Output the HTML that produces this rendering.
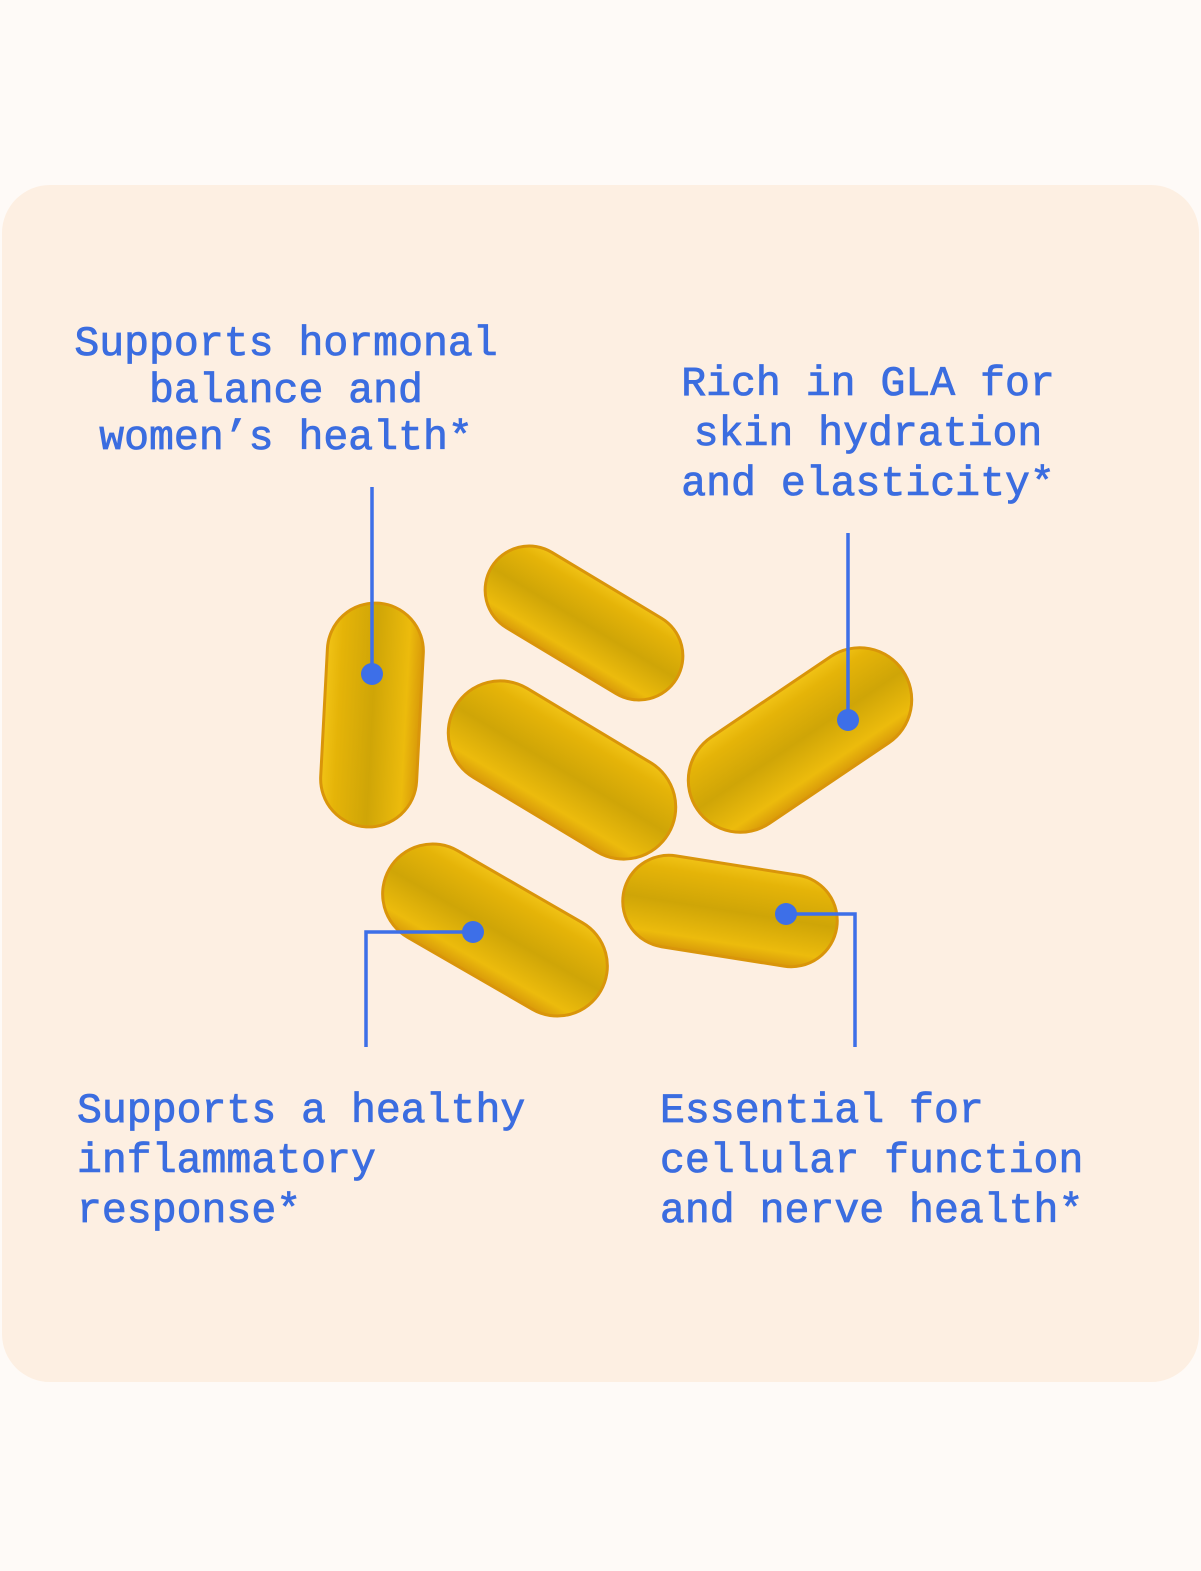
<!DOCTYPE html>
<html><head><style>
body{margin:0;width:1201px;height:1571px;background:#fefaf7;position:relative;overflow:hidden;font-family:"Liberation Mono",monospace;}
.panel{position:absolute;left:2px;top:185px;width:1197px;height:1197px;border-radius:48px;background:#fdefe2;}
.t{position:absolute;color:#3b6de0;font-size:41.5px;white-space:pre;line-height:47px;-webkit-text-stroke:0.8px #3b6de0;}
svg{position:absolute;left:0;top:0;}
</style></head><body>
<div class="panel"></div>
<svg width="1201" height="1571">
<defs>
<linearGradient id="g" x1="0" y1="0" x2="0" y2="1">
<stop offset="0" stop-color="#f1c316"/><stop offset="0.15" stop-color="#e5b408"/><stop offset="0.5" stop-color="#cfa507"/><stop offset="0.85" stop-color="#ecbb0c"/><stop offset="1" stop-color="#d99a0a"/>
</linearGradient>
</defs>
<g stroke="#d9950a" stroke-width="3" fill="url(#g)">
<rect x="-112" y="-48" width="224" height="96" rx="48" transform="translate(372,715) rotate(-87)"/>
<rect x="-108" y="-44" width="216" height="88" rx="44" transform="translate(584,623) rotate(31)"/>
<rect x="-124" y="-52" width="248" height="104" rx="52" transform="translate(562,770) rotate(31)"/>
<rect x="-124" y="-52" width="248" height="104" rx="52" transform="translate(800,740) rotate(-34)"/>
<rect x="-122" y="-50" width="244" height="100" rx="50" transform="translate(495,930) rotate(30)"/>
<rect x="-108" y="-46" width="216" height="92" rx="46" transform="translate(730,911) rotate(9)"/>
</g>
<g stroke="#3d6fe8" stroke-width="3.5" fill="none">
<path d="M372 487V674"/><path d="M848 533V720"/>
<path d="M473 932H366V1047"/><path d="M786 914H855V1047"/>
</g>
<g fill="#3d6fe8">
<circle cx="372" cy="674" r="11"/><circle cx="848" cy="720" r="11"/>
<circle cx="473" cy="932" r="11"/><circle cx="786" cy="914" r="11"/>
</g>
</svg>
<div class="t" style="left:36px;top:321px;width:500px;text-align:center">Supports hormonal
balance and
women’s health*</div>
<div class="t" style="left:618px;top:360px;width:500px;text-align:center;line-height:50px">Rich in GLA for
skin hydration
and elasticity*</div>
<div class="t" style="left:77px;top:1087px;line-height:50px">Supports a healthy
inflammatory
response*</div>
<div class="t" style="left:660px;top:1087px;line-height:50px">Essential for
cellular function
and nerve health*</div>
</body></html>
